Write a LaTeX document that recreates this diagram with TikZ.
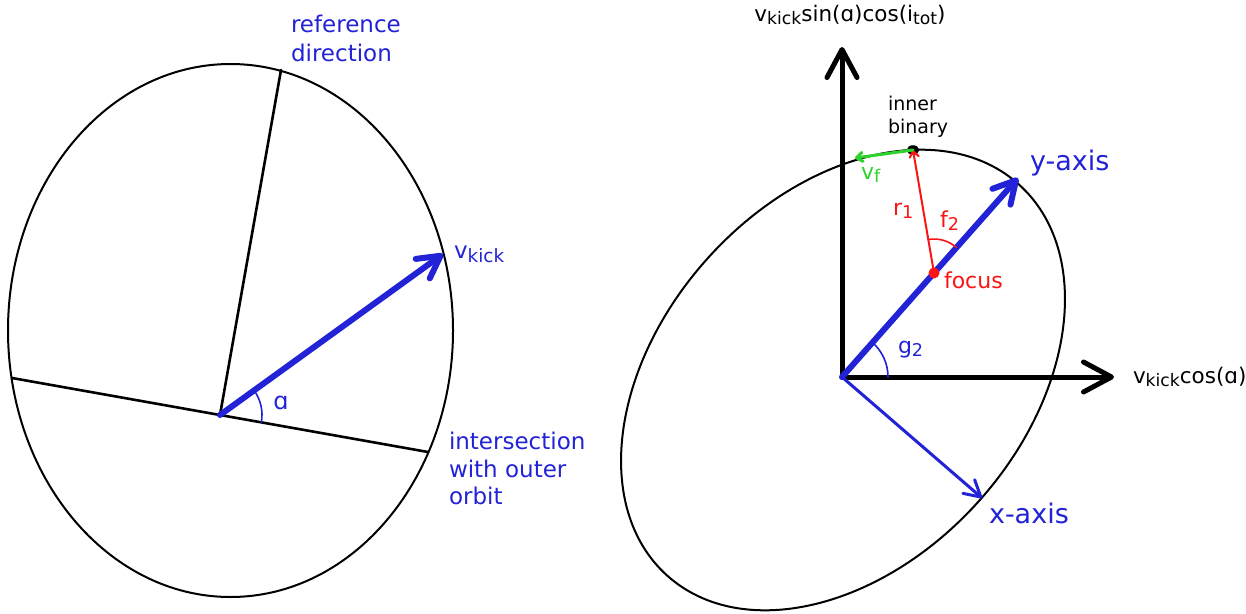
\documentclass[tikz,border=0pt]{standalone}
\usepackage{fontspec}
\setmainfont{DejaVu Sans}
\usepackage{graphicx}
\usetikzlibrary{arrows.meta,shapes.geometric}
\definecolor{cblue}{RGB}{34,34,214}
\definecolor{cred}{RGB}{250,20,20}
\definecolor{cgreen}{RGB}{45,210,45}
\newcommand{\lsub}[1]{\raisebox{-0.32ex}{\scalebox{0.8}{#1}}}
\begin{document}
\begin{tikzpicture}[x=1pt,y=-1pt,line cap=round,line join=round,
  txt/.style={inner sep=0pt,outer sep=0pt},
  bluetxt/.style={txt,text=cblue,font=\fontsize{23}{28}\selectfont},
  blacktxt/.style={txt,text=black,font=\fontsize{21.5}{26}\selectfont},
  redtxt/.style={txt,text=cred,font=\fontsize{22}{26}\selectfont},
  axistxt/.style={txt,text=cblue,font=\fontsize{27}{32}\selectfont},
  orbit/.style={draw=black,line width=2pt},
  refline/.style={draw=black,line width=2.6pt},
  bigaxis/.style={draw=black,line width=5pt,-{Straight Barb[round,length=28pt,width=30pt]}},
  kickarrow/.style={draw=cblue,line width=6pt,-{Straight Barb[round,length=22pt,width=24pt]}},
  xarrow/.style={draw=cblue,line width=3pt,-{Straight Barb[round,length=16pt,width=18pt]}},
  smallarrow/.style={-{Straight Barb[round,length=6pt,width=9pt]}},
  anglearc/.style={line width=1.6pt}
]
\useasboundingbox (0,0) rectangle (1246,613);

% ---------------- left figure ----------------
\coordinate (C) at (220,415);
\coordinate (H1) at (12,378);
\coordinate (H2) at (428,452);
\coordinate (R) at (281,70);
\coordinate (K) at (443,254);
\draw[orbit] (230.5,330.5) ellipse [x radius=222.5, y radius=266.5];
\draw[refline] (H1) -- (H2);
\draw[refline] (C) -- (R);
\draw[kickarrow] (C) -- (K);
\draw[cblue,anglearc] ([shift={(10.1:42)}]C) arc[start angle=10.1, end angle=-35.8, radius=42];

\node[bluetxt,anchor=base west] (ref1) at (291,32) {reference};
\node[bluetxt,anchor=base west] (ref2) at (291,61) {direction};
\node[bluetxt,anchor=base west] (vk) at (454,258) {v\lsub{kick}};
\node[bluetxt,font=\fontsize{24}{28}\selectfont] (alpha) at (281,403) {ɑ};
\node[bluetxt,anchor=base west] (int1) at (449,449) {intersection};
\node[bluetxt,anchor=base west] (int2) at (449,477) {with outer};
\node[bluetxt,anchor=base west] (int3) at (449,504) {orbit};

% ---------------- right figure ----------------
\coordinate (O) at (842,377);
\coordinate (Vt) at (842,47);
\coordinate (Ht) at (1114,377);
\coordinate (Yt) at (1018,178);
\coordinate (Xt) at (982,498);
\coordinate (F) at (934,273);
\coordinate (Vf) at (855,158);

\draw[orbit,rotate around={48:(843,380)}] (843,380) ellipse [x radius=263, y radius=182];
\draw[bigaxis] (O) -- (Vt);
\draw[bigaxis] (O) -- (Ht);
\draw[kickarrow] (O) -- (Yt);
\draw[xarrow] (O) -- (Xt);
\draw[cblue,anglearc] ([shift={(0:46)}]O) arc[start angle=0, end angle=-48.5, radius=46];
\draw[cred,anglearc] ([shift={(-48.5:34)}]F) arc[start angle=-48.5, end angle=-99.7, radius=34];

\node[draw=black,fill=black,ellipse,minimum width=12pt,minimum height=9pt,inner sep=0pt] (B) at (913,150) {};
\draw[cred,line width=2pt,smallarrow] (F) -- (B.center);
\draw[cgreen,line width=3pt,smallarrow] (B.center) -- (Vf);
\node[circle,fill=cred,minimum size=11pt,inner sep=0pt] (Fd) at (F) {};

\node[blacktxt,anchor=base] (ytop) at (850,21) {v\lsub{kick}sin(ɑ)cos(i\lsub{tot})};
\node[blacktxt,anchor=base west] (xright) at (1133,383) {v\lsub{kick}cos(ɑ)};
\node[txt,font=\fontsize{19}{23}\selectfont,anchor=base west] (ib1) at (888,110) {inner};
\node[txt,font=\fontsize{19}{23}\selectfont,anchor=base west] (ib2) at (888,133) {binary};
\node[txt,text=cgreen,font=\fontsize{22}{26}\selectfont,anchor=base west] (vf) at (861,179) {v\lsub{f}};
\node[redtxt,anchor=base west] (r1) at (893,215) {r\lsub{1}};
\node[redtxt,anchor=base west] (f2) at (940,227) {f\lsub{2}};
\node[redtxt,anchor=base west] (foc) at (944,288) {focus};
\node[bluetxt,font=\fontsize{22}{26}\selectfont,anchor=base west] (g2) at (898,353) {g\lsub{2}};
\node[axistxt,anchor=base west] (ylab) at (1030,170) {y-axis};
\node[axistxt,anchor=base west] (xlab) at (989,523) {x-axis};
\end{tikzpicture}
\end{document}
